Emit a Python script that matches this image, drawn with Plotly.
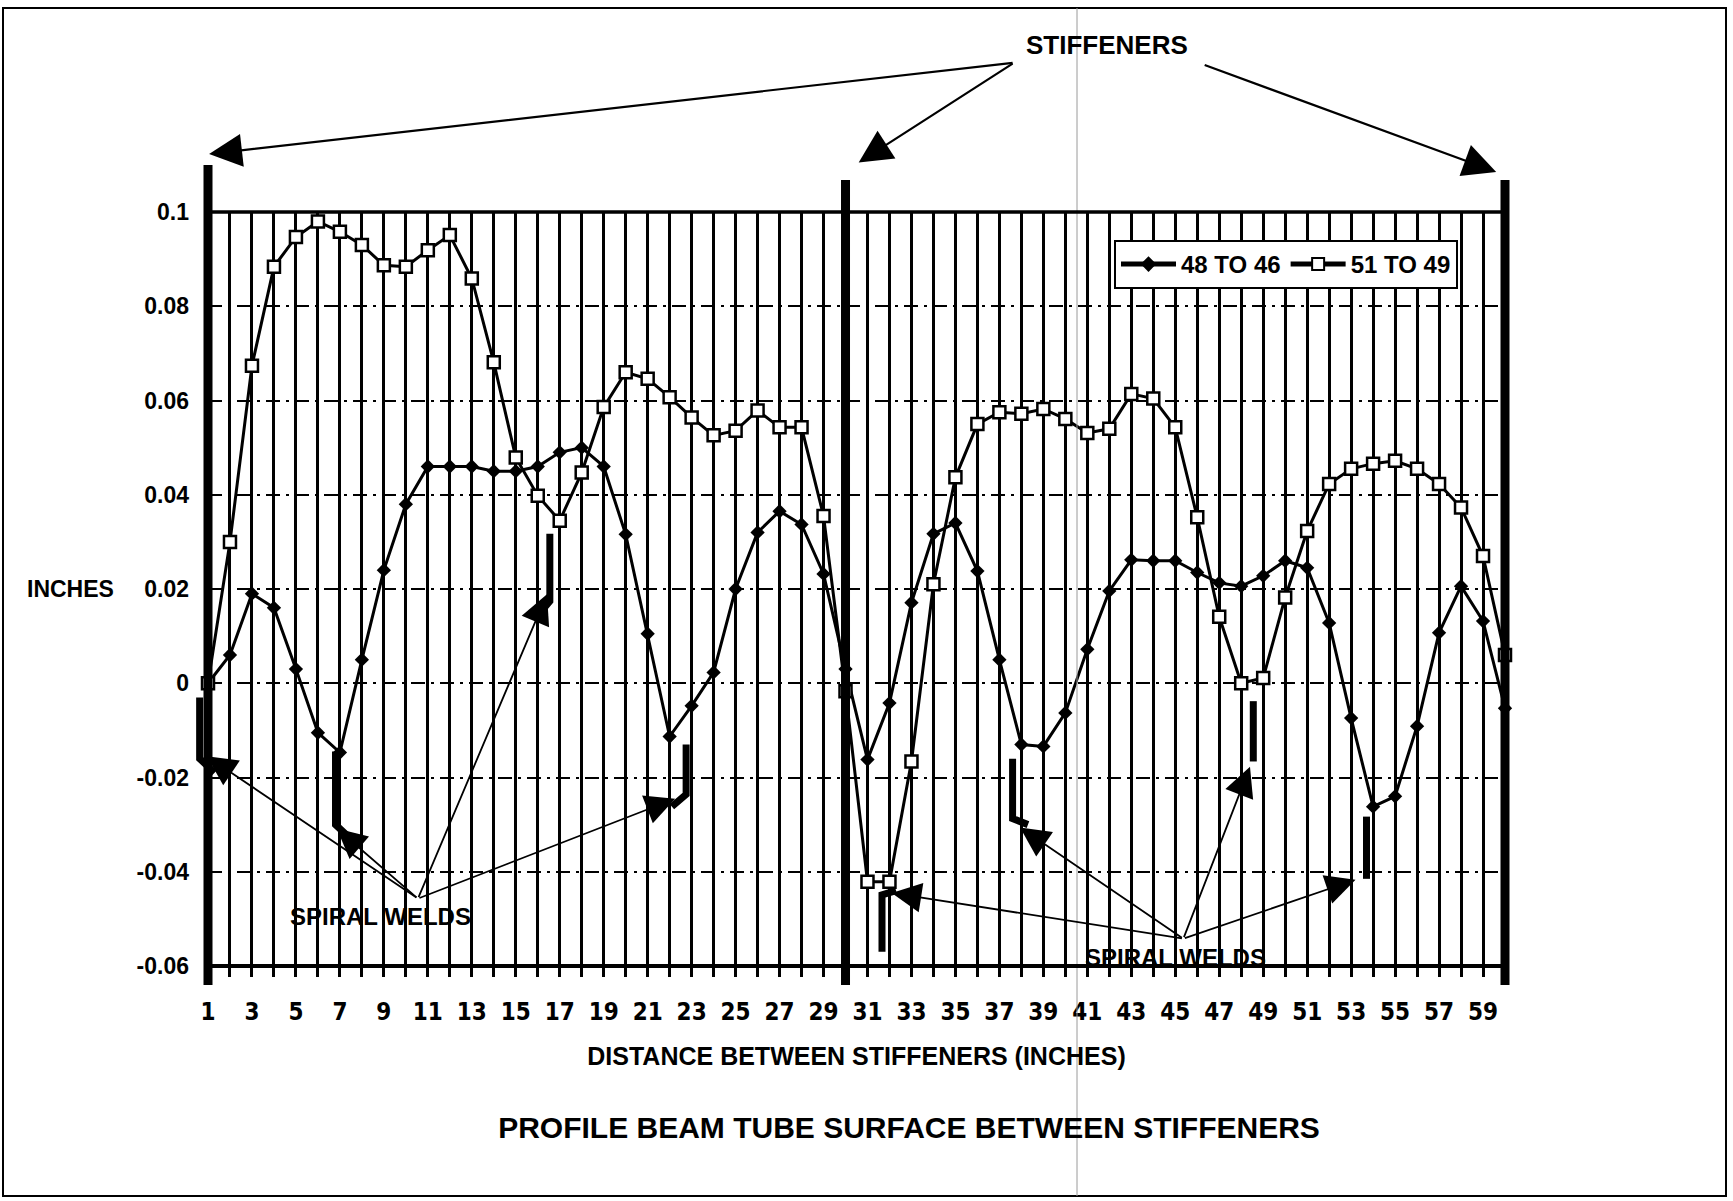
import plotly.graph_objects as go

# ---------------- data ----------------
distance_in = [1, 2, 3, 4, 5, 6, 7, 8, 9, 10, 11, 12, 13, 14, 15, 16, 17, 18, 19, 20,
               21, 22, 23, 24, 25, 26, 27, 28, 29, 30, 31, 32, 33, 34, 35, 36, 37, 38, 39, 40,
               41, 42, 43, 44, 45, 46, 47, 48, 49, 50, 51, 52, 53, 54, 55, 56, 57, 58, 59, 60]

profile_48_to_46 = [0.0, 0.006, 0.019, 0.016, 0.003, -0.0105, -0.0147, 0.005, 0.024, 0.038,
                    0.046, 0.046, 0.046, 0.045, 0.045, 0.046, 0.049, 0.050, 0.046, 0.0316,
                    0.0105, -0.0113, -0.0048, 0.0023, 0.020, 0.032, 0.0365, 0.0337, 0.0232, 0.003,
                    -0.0162, -0.0042, 0.0171, 0.0317, 0.034, 0.0238, 0.005, -0.013, -0.0134, -0.0063,
                    0.0072, 0.0196, 0.0262, 0.026, 0.026, 0.0235, 0.0213, 0.0206, 0.0228, 0.026,
                    0.0245, 0.0128, -0.0074, -0.0262, -0.024, -0.0091, 0.0107, 0.0206, 0.0132, -0.0053]

profile_51_to_49 = [0.0, 0.030, 0.0674, 0.0884, 0.0947, 0.098, 0.0958, 0.093, 0.0887, 0.0884,
                    0.0919, 0.0951, 0.0859, 0.0681, 0.0479, 0.0398, 0.0345, 0.0447, 0.0586, 0.066,
                    0.0646, 0.0607, 0.0564, 0.0526, 0.0536, 0.0579, 0.0543, 0.0543, 0.0355, -0.0017,
                    -0.0421, -0.0421, -0.0166, 0.021, 0.0437, 0.055, 0.0575, 0.0572, 0.0582, 0.0561,
                    0.0531, 0.054, 0.0614, 0.0604, 0.0543, 0.0352, 0.0141, 0.0, 0.0011, 0.0182,
                    0.0323, 0.0423, 0.0455, 0.0466, 0.0472, 0.0455, 0.0423, 0.0373, 0.027, 0.006]

x_tick_vals = distance_in
x_tick_text = ["1", "", "3", "", "5", "", "7", "", "9", "", "11", "", "13", "", "15", "", "17", "", "19", "",
               "21", "", "23", "", "25", "", "27", "", "29", "", "31", "", "33", "", "35", "", "37", "", "39", "",
               "41", "", "43", "", "45", "", "47", "", "49", "", "51", "", "53", "", "55", "", "57", "", "59", ""]
y_tick_vals = [-0.06, -0.04, -0.02, 0, 0.02, 0.04, 0.06, 0.08, 0.1]
y_tick_text = ["-0.06", "-0.04", "-0.02", "0", "0.02", "0.04", "0.06", "0.08", "0.1"]

stiffener_x = [1, 30, 60]
# spiral weld annotation geometry (in chart units)
weld_apex_left = (10.55, -0.0457)
weld_apex_right = (45.37, -0.0542)
weld_tips_left = [(0.95, -0.0155), (6.86, -0.0308), (16.42, 0.0189), (22.25, -0.0245)]
weld_tips_right = [(32.1, -0.0445), (37.94, -0.0306), (48.4, -0.0177), (53.2, -0.0417)]
# weld marker hooks: (x, y_top, y_bottom, x_hook_end, y_hook_end)
weld_bars = [(0.62, -0.003, -0.016, 1.3, -0.019),
             (6.8, -0.0145, -0.0300, 7.6, -0.0335),
             (16.55, 0.0317, 0.0174, 16.3, 0.0160),
             (22.75, -0.013, -0.0236, 22.1, -0.0262),
             (31.66, -0.0570, -0.0449, 32.3, -0.0440),
             (37.6, -0.016, -0.0287, 38.3, -0.0300),
             (48.55, -0.0038, -0.0166, 48.55, -0.0166),
             (53.7, -0.0283, -0.0415, 53.7, -0.0415)]
stiff_apex_left = (37.67, 0.1317)
stiff_apex_right = (46.27, 0.1313)
stiff_tips = [(1.05, 0.1123), (30.6, 0.1105), (59.6, 0.1085)]

# ---------------- layout geometry ----------------
W, H = 1733, 1201
L, R, T, B = 208, 228, 212, 235
PW, PH = W - L - R, H - T - B
XR = [1, 60]
YR = [-0.06, 0.1]

FONT = "Liberation Sans, Arial, Helvetica, sans-serif"
NARROW = "Liberation Sans Narrow, Arial Narrow, DejaVu Sans Condensed, Liberation Sans, sans-serif"


def xp(x):
    return (x - XR[0]) / (XR[1] - XR[0])


def yp(y):
    return (y - YR[0]) / (YR[1] - YR[0])


def pxx(X):
    return (X - L) / PW


def pxy(Y):
    return (H - B - Y) / PH


def arrow(tail, head, width=2.0, size=3.0):
    tx, ty = xp(tail[0]), yp(tail[1])
    hx, hy = xp(head[0]), yp(head[1])
    return dict(xref="paper", yref="paper", x=hx, y=hy,
                axref="pixel", ayref="pixel",
                ax=(tx - hx) * PW, ay=-(ty - hy) * PH,
                text="", showarrow=True, arrowhead=2, arrowsize=size,
                arrowwidth=width, arrowcolor="black", standoff=0)


fig = go.Figure()

fig.add_trace(go.Scatter(
    x=distance_in, y=profile_48_to_46, name="48 TO 46", mode="lines+markers",
    line=dict(color="black", width=3),
    marker=dict(symbol="diamond", size=11, color="black"),
    cliponaxis=False))

fig.add_trace(go.Scatter(
    x=distance_in, y=profile_51_to_49, name="51 TO 49", mode="lines+markers",
    line=dict(color="black", width=3),
    marker=dict(symbol="square", size=12, color="white", line=dict(color="black", width=2.5)),
    cliponaxis=False))

shapes = []
# page border
shapes.append(dict(type="rect", xref="paper", yref="paper",
                   x0=pxx(3), x1=pxx(1726), y0=pxy(1196), y1=pxy(8),
                   line=dict(color="black", width=2), layer="below"))
# scan fold line
shapes.append(dict(type="line", xref="paper", yref="paper",
                   x0=pxx(1077), x1=pxx(1077), y0=pxy(1196), y1=pxy(8),
                   line=dict(color="#9a9a9a", width=1), layer="above"))
# top and bottom frame of the grid
shapes.append(dict(type="line", xref="paper", yref="paper", x0=xp(1), x1=xp(60),
                   y0=yp(0.1), y1=yp(0.1), line=dict(color="black", width=3.5), layer="above"))
shapes.append(dict(type="line", xref="paper", yref="paper", x0=xp(1), x1=xp(60),
                   y0=yp(-0.06), y1=yp(-0.06), line=dict(color="black", width=4), layer="above"))
# stiffeners
stiff_top_px = [165, 180, 180]
for sx, top in zip(stiffener_x, stiff_top_px):
    shapes.append(dict(type="line", xref="paper", yref="paper", x0=xp(sx), x1=xp(sx),
                       y0=pxy(985), y1=pxy(top), line=dict(color="black", width=9), layer="above"))
# weld markers (thick bar with a short hook)
for bx, by0, by1, hx, hy in weld_bars:
    path = "M {:.5f},{:.5f} L {:.5f},{:.5f} L {:.5f},{:.5f}".format(
        xp(bx), yp(by0), xp(bx), yp(by1), xp(hx), yp(hy))
    shapes.append(dict(type="path", xref="paper", yref="paper", path=path,
                       line=dict(color="black", width=7), layer="above"))

annotations = []
for tip in weld_tips_left:
    annotations.append(arrow(weld_apex_left, tip, width=1.8, size=3.3))
for tip in weld_tips_right:
    annotations.append(arrow(weld_apex_right, tip, width=1.8, size=3.3))
annotations.append(arrow(stiff_apex_left, stiff_tips[0], width=2.2, size=3.0))
annotations.append(arrow(stiff_apex_left, stiff_tips[1], width=2.2, size=3.0))
annotations.append(arrow(stiff_apex_right, stiff_tips[2], width=2.2, size=3.0))

annotations.append(dict(xref="paper", yref="paper", x=xp(8.83), y=yp(-0.0496), text="SPIRAL WELDS",
                        xanchor="center", yanchor="middle",
                        showarrow=False, font=dict(family=FONT, size=24, color="black")))
annotations.append(dict(xref="paper", yref="paper", x=xp(44.99), y=yp(-0.0583), text="SPIRAL WELDS",
                        xanchor="center", yanchor="middle",
                        showarrow=False, font=dict(family=FONT, size=24, color="black")))
annotations.append(dict(xref="paper", yref="paper", x=pxx(1107), y=pxy(45), text="STIFFENERS",
                        xanchor="center", yanchor="middle",
                        showarrow=False, font=dict(family=FONT, size=26, color="black", weight="bold")))
annotations.append(dict(xref="paper", yref="paper", x=pxx(70), y=yp(0.02), text="INCHES",
                        xanchor="center", yanchor="middle",
                        showarrow=False, font=dict(family=FONT, size=23, color="black", weight="bold")))

fig.update_layout(
    width=W, height=H, autosize=False,
    margin=dict(l=L, r=R, t=T, b=B, pad=0),
    paper_bgcolor="white", plot_bgcolor="white",
    font=dict(family=FONT, color="black", weight="bold"),
    title=dict(text="PROFILE BEAM TUBE SURFACE BETWEEN STIFFENERS",
               x=909 / W, y=1 - 1127 / H, xref="container", yref="container",
               xanchor="center", yanchor="middle",
               font=dict(family=FONT, size=30, color="black", weight="bold")),
    showlegend=True,
    legend=dict(x=pxx(1458), y=pxy(240), xanchor="right", yanchor="top",
                orientation="h", bgcolor="white", bordercolor="black", borderwidth=2,
                font=dict(family=FONT, size=24, color="black", weight="bold"),
                itemwidth=55, tracegroupgap=0, itemsizing="constant"),
    xaxis=dict(range=XR, tickmode="array", tickvals=x_tick_vals, ticktext=x_tick_text,
               showgrid=True, gridcolor="black", gridwidth=3, zeroline=False, showline=False,
               ticks="outside", ticklen=10, tickwidth=3, tickcolor="black",
               ticklabelstandoff=14,
               tickfont=dict(family=NARROW, size=24, color="black", weight="bold"),
               title=dict(text="DISTANCE BETWEEN STIFFENERS (INCHES)", standoff=22,
                          font=dict(family=FONT, size=25, color="black", weight="bold"))),
    yaxis=dict(range=YR, tickmode="array", tickvals=y_tick_vals, ticktext=y_tick_text,
               showgrid=True, gridcolor="black", gridwidth=2, griddash="14px,6px,3px,6px",
               zeroline=False, showline=False, ticks="", ticklabelstandoff=18,
               tickfont=dict(family=FONT, size=23, color="black", weight="bold")),
    shapes=shapes,
    annotations=annotations,
)

fig.write_html("out.html")
